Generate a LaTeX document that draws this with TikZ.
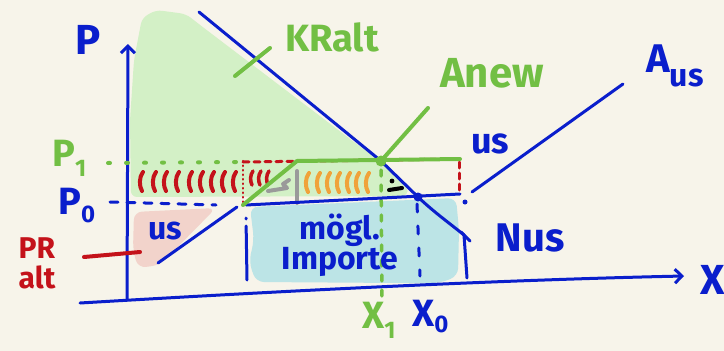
\documentclass[tikz,border=0pt]{standalone}
\usepackage{fontspec}
\setmainfont{Fira Sans}
\usetikzlibrary{arrows.meta}
\definecolor{bg}{HTML}{F7F4EA}
\definecolor{hb}{HTML}{0A1ECC}
\definecolor{hg}{HTML}{72BF44}
\definecolor{hr}{HTML}{C4121A}
\definecolor{ho}{HTML}{F0A23A}
\definecolor{hgr}{HTML}{9A9A9A}
\definecolor{fg}{HTML}{D3F0C6}
\definecolor{fp}{HTML}{F2D3CB}
\definecolor{fb}{HTML}{BCE4E6}
\newcommand{\fsz}[1]{\fontsize{#1}{#1}\selectfont}
\newcommand{\lowsub}[2]{\raisebox{-#1}{#2}}
\begin{document}
\begin{tikzpicture}[x=1pt,y=-1pt,line cap=round,line join=round,
  pen/.style={line width=3pt},
  lbl/.style={inner sep=0pt,font=\bfseries},
  tip/.style={-{Straight Barb[length=7pt,width=14pt,line width=3pt]}},
  stroke/.style={line width=4pt}]
\fill[bg] (0,0) rectangle (724,351);
\useasboundingbox (0,0) rectangle (724,351);
% fills
\fill[fg,rounded corners=6pt] (131,197) -- (130,120) -- (134,60) -- (142,18) -- (156,10) -- (186,14) -- (204,28) -- (358,145) -- (381,161) -- (407,186) -- (408,196) -- cycle;
\fill[fp,rounded corners=8pt] (134,212) -- (216,208) -- (160,265) -- (138,268) -- (133,250) -- cycle;
\fill[fb,rounded corners=8pt] (250,207) -- (456,198) -- (459,230) -- (458,276) -- (440,283) -- (400,283) -- (256,282) -- (249,262) -- (254,240) -- cycle;
% coordinates
\coordinate (yb) at (127,300); \coordinate (yt) at (128,44);
\coordinate (xb) at (80,303); \coordinate (xt) at (684,276);
\coordinate (d0) at (199,12); \coordinate (e1) at (381,161); \coordinate (d2) at (418,197); \coordinate (d3) at (464,235); \coordinate (d4) at (467,278);
\coordinate (s0) at (158,263); \coordinate (s1) at (237,207);
\coordinate (u0) at (472,192); \coordinate (u1) at (623,84);
\coordinate (g0) at (243,205); \coordinate (g1) at (297,161); \coordinate (g2) at (460,159); \coordinate (g3) at (428,108);
\coordinate (p0a) at (110,202); \coordinate (p0b) at (216,205);
\coordinate (p0c) at (246,205); \coordinate (p0d) at (460,194);
\coordinate (p1a) at (108,163); \coordinate (p1b) at (240,162);
% red hatching
\foreach \x in {142,155,166,178,191,202,213,224,235}
  \draw[hr,stroke] (\x,191) .. controls (\x-3,186) and (\x-3,177) .. (\x+1,172);
\foreach \x in {252,260,268}
  \draw[hr,line width=3.5pt] (\x,185) .. controls (\x-2,181) and (\x-2,175) .. (\x+1,171);
\draw[hr,line width=2.5pt,dash pattern=on 0.5pt off 4pt] (243,161) -- (243,203);
\draw[hr,line width=3pt,dash pattern=on 6pt off 5pt] (243,162) -- (g2);
\draw[hr,line width=3pt,dash pattern=on 6pt off 5pt] (459,162) -- (459,191);
% orange hatching
\foreach \x in {308,319,329,339,349,358,368}
  \draw[ho,stroke] (\x,192) .. controls (\x-3,187) and (\x-3,178) .. (\x+1,173);
% grey
\draw[hgr,line width=4pt] (297,171) -- (297,203);
\draw[hgr,line width=4pt] (289,180) -- (283,184) -- (287,188) -- (268,191);
% black mark
\fill[black] (392,181) circle (2.4pt);
\draw[black,line width=4pt] (389,190) -- (402,188);
% axes
\draw[hb,pen,tip] (yb) -- (yt);
\draw[hb,pen,tip] (xb) .. controls (300,290) and (500,280) .. (xt);
% dashed lines
\draw[hb,pen,dash pattern=on 8pt off 9pt] (p0a) -- (p0b);
\draw[hg,line width=4pt,dash pattern=on 2pt off 16pt] (p1a) -- (p1b);
\draw[hg,line width=3.5pt,dash pattern=on 6pt off 9pt] (381,170) -- (382,300);
\draw[hb,pen,dash pattern=on 1pt off 7pt on 55pt off 20pt] (246,218) -- (247,280);
\draw[hb,pen,dash pattern=on 8pt off 14pt] (417,204) -- (420,276);
\fill[hb] (465,202) circle (2.5pt);
% curves
\draw[hb,pen] (d0) -- (e1) -- (d2) .. controls (435,213) and (448,222) .. (d3);
\draw[hb,pen] (d3) -- (d4);
\draw[hb,pen] (461,232) -- (470,241);
\draw[hb,pen] (s0) -- (s1);
\draw[hb,pen] (u0) -- (u1);
\draw[hb,pen] (p0c) -- (p0d);
\fill[hb] (d2) circle (4.5pt);
\draw[hg,line width=4pt] (g0) -- (g1) -- (g2);
\draw[hg,line width=4pt] (e1) -- (g3);
\fill[hg] (e1) circle (5.5pt);
% labels
\node[lbl,text=hb,font=\bfseries\fsz{42}] (lP) at (88,40) {P};
\node[lbl,text=hg,font=\bfseries\fsz{38},anchor=west] (lP1) at (52,158) {P\lowsub{10pt}{\fsz{24}1}};
\node[lbl,text=hb,font=\bfseries\fsz{38},anchor=west] (lP0) at (58,206) {P\lowsub{8pt}{\fsz{24}0}};
\node[lbl,text=hg,font=\bfseries\fsz{38}] (lKR) at (332,37) {KRalt};
\node[lbl,text=hg,font=\bfseries\fsz{42}] (lAn) at (492,73) {Anew};
\node[lbl,text=hb,font=\bfseries\fsz{40},anchor=west] (lAus) at (646,66) {A\lowsub{14pt}{\fsz{32}us}};
\node[lbl,text=hb,font=\bfseries\fsz{36}] (lus1) at (490,144) {us};
\node[lbl,text=hb,font=\bfseries\fsz{32}] (lus2) at (165,231) {us};
\node[lbl,text=hr,font=\bfseries\fsz{30},align=center] (lPR) at (37,263) {PR\\[0pt]alt};
\node[lbl,text=hb,font=\bfseries\fsz{32},align=center] (lImp) at (340,245) {mögl.\\[-2pt]Importe};
\node[lbl,text=hb,font=\bfseries\fsz{40}] (lN) at (530,238) {Nus};
\node[lbl,text=hg,font=\bfseries\fsz{38},anchor=west] (lX1) at (362,320) {X\lowsub{10pt}{\fsz{24}1}};
\node[lbl,text=hb,font=\bfseries\fsz{38},anchor=west] (lX0) at (412,317) {X\lowsub{6pt}{\fsz{24}0}};
\node[lbl,text=hb,font=\bfseries\fsz{42},anchor=west] (lX) at (700,280) {X};
% leaders
\coordinate (k0) at (235,76); \coordinate (k1) at (270,48);
\draw[hg,line width=4pt] (k0) -- (k1);
\coordinate (r0) at (84,257); \coordinate (r1) at (140,252);
\draw[hr,line width=4pt] (r0) -- (r1);
\end{tikzpicture}
\end{document}
